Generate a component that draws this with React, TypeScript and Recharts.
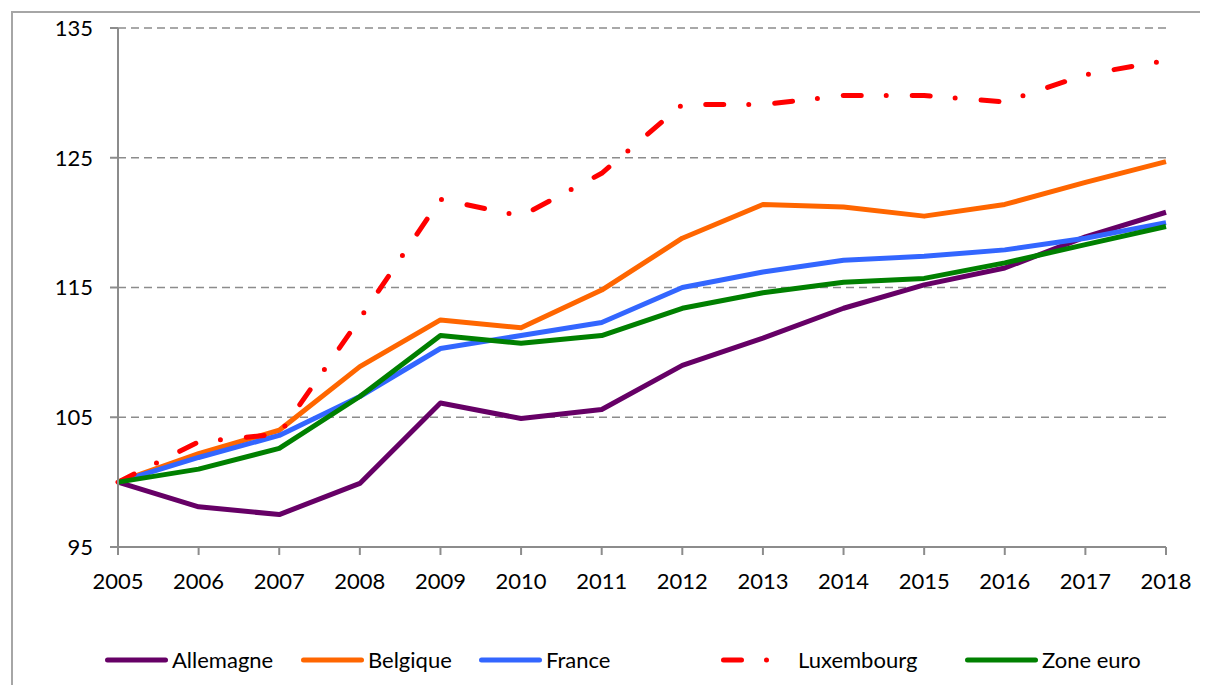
import { LineChart, Line, XAxis, YAxis, CartesianGrid, Legend } from "recharts";

const years = ["2005", "2006", "2007", "2008", "2009", "2010", "2011", "2012", "2013", "2014", "2015", "2016", "2017", "2018"];
const allemagne = [100, 98.1, 97.5, 99.9, 106.1, 104.9, 105.6, 109.0, 111.1, 113.4, 115.2, 116.5, 118.9, 120.8];
const belgique = [100, 102.2, 104.0, 108.9, 112.5, 111.9, 114.8, 118.8, 121.4, 121.2, 120.5, 121.4, 123.1, 124.7];
const france = [100, 101.9, 103.6, 106.6, 110.3, 111.3, 112.3, 115.0, 116.2, 117.1, 117.4, 117.9, 118.8, 120.0];
const luxembourg = [100, 103.1, 103.7, 112.6, 121.8, 120.5, 123.8, 129.1, 129.1, 129.8, 129.8, 129.3, 131.4, 132.5];
const zoneEuro = [100, 101.0, 102.6, 106.6, 111.3, 110.7, 111.3, 113.4, 114.6, 115.4, 115.7, 116.9, 118.3, 119.7];
const yTicks = [95, 105, 115, 125, 135];

const data = years.map((year, i) => ({
  year,
  allemagne: allemagne[i],
  belgique: belgique[i],
  france: france[i],
  luxembourg: luxembourg[i],
  zoneEuro: zoneEuro[i],
}));

const FONT = "Lato, 'Noto Sans', sans-serif";
const LUX_DASH = "18 25 0 26";

const series = [
  { key: "allemagne", name: "Allemagne", color: "#660066" },
  { key: "belgique", name: "Belgique", color: "#FF6600" },
  { key: "france", name: "France", color: "#3366FF" },
  { key: "luxembourg", name: "Luxembourg", color: "#FF0000", dash: LUX_DASH },
  { key: "zoneEuro", name: "Zone euro", color: "#008000" },
];

// legend slot widths / sample lengths (Excel spaces these unevenly)
const slotWidths = [196, 178, 242, 244, 200];
const sampleWidths = [67, 67, 67, 77, 77];

const renderLegend = () => (
  <div style={{ height: 40, display: "flex", alignItems: "center", paddingLeft: 97 }}>
    {series.map((s, i) => (
      <div key={s.key} style={{ width: slotWidths[i], display: "flex", alignItems: "center" }}>
        <svg width={sampleWidths[i]} height={10}>
          <line
            x1={2.5}
            x2={s.dash ? 74 : sampleWidths[i] - 6.5}
            y1={5}
            y2={5}
            stroke={s.color}
            strokeWidth={5}
            strokeLinecap="round"
            strokeDasharray={s.dash ? "18 25 0 100" : undefined}
          />
        </svg>
        <span style={{ fontFamily: FONT, fontSize: 22, color: "#000", lineHeight: "40px" }}>{s.name}</span>
      </div>
    ))}
  </div>
);

export default function App() {
  return (
    <div style={{ position: "relative", width: 1200, height: 677 }}>
      <div
        style={{
          position: "absolute",
          left: 3,
          top: 3,
          right: 0,
          bottom: -8,
          borderLeft: "2px solid #a6a6a6",
          borderTop: "2px solid #a6a6a6",
        }}
      />
      <div style={{ position: "absolute", left: 0, top: 0 }}>
        <LineChart width={1200} height={677} data={data} margin={{ top: 20, right: 42, left: 30, bottom: 5 }}>
          <CartesianGrid vertical={false} stroke="#8c8c8c" strokeWidth={1.5} strokeDasharray="8 5" />
          <XAxis
            dataKey="year"
            height={93}
            stroke="#8c8c8c"
            strokeWidth={2}
            tickSize={8}
            tickMargin={18}
            interval={0}
            tick={{ fill: "#000", fontSize: 22, fontFamily: FONT }}
          />
          <YAxis
            width={80}
            domain={[95, 135]}
            ticks={yTicks}
            stroke="#8c8c8c"
            strokeWidth={2}
            tickSize={8}
            tickMargin={17}
            tick={{ fill: "#000", fontSize: 22, fontFamily: FONT }}
          />
          {series.map((s) => (
            <Line
              key={s.key}
              type="linear"
              dataKey={s.key}
              name={s.name}
              stroke={s.color}
              strokeWidth={5}
              strokeDasharray={s.dash}
              strokeLinecap={s.dash ? "round" : "butt"}
              strokeLinejoin="round"
              dot={false}
              activeDot={false}
              isAnimationActive={false}
            />
          ))}
          <Legend verticalAlign="bottom" content={renderLegend} wrapperStyle={{ left: 0, width: 1200 }} />
        </LineChart>
      </div>
    </div>
  );
}
